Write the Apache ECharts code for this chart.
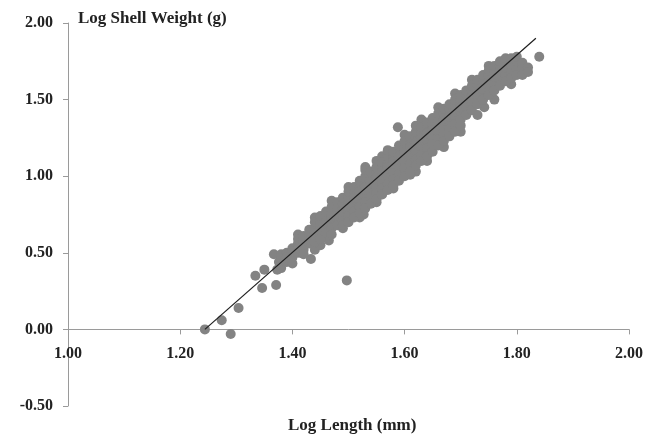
<!DOCTYPE html>
<html>
<head>
<meta charset="utf-8">
<script src="https://cdn.jsdelivr.net/npm/echarts@6/dist/echarts.min.js"></script>
<style>
html,body{margin:0;padding:0;background:#fff;}
#c{width:648px;height:438px;}
</style>
</head>
<body>
<div id="c"></div>
<script>
// Tick labels
var xTicks = [1.00, 1.20, 1.40, 1.60, 1.80, 2.00];
var yTicks = [-0.50, 0.00, 0.50, 1.00, 1.50, 2.00];
var xTitle = 'Log Length (mm)';
var yTitle = 'Log Shell Weight (g)';

// Isolated points (Log Length, Log Shell Weight)
var outlierPoints = [
  [1.244, 0.00], [1.290, -0.03], [1.274, 0.06], [1.304, 0.14],
  [1.334, 0.35], [1.346, 0.27], [1.350, 0.39], [1.371, 0.29],
  [1.373, 0.39], [1.376, 0.44], [1.367, 0.49], [1.415, 0.50],
  [1.433, 0.46], [1.465, 0.58], [1.497, 0.32], [1.527, 0.75],
  [1.588, 1.32], [1.620, 1.03], [1.742, 1.45], [1.840, 1.78]
];

// Points on the upper and lower fringes of the cloud
var edgePoints = [
  [1.41, 0.62], [1.44, 0.73], [1.47, 0.84], [1.50, 0.93], [1.53, 1.06],
  [1.56, 1.13], [1.60, 1.27], [1.63, 1.37], [1.66, 1.45], [1.69, 1.54],
  [1.72, 1.63], [1.75, 1.72],
  [1.44, 0.52], [1.45, 0.55], [1.46, 0.60], [1.49, 0.66], [1.52, 0.73],
  [1.55, 0.83], [1.58, 0.92], [1.61, 1.01], [1.64, 1.10], [1.67, 1.19],
  [1.70, 1.29], [1.73, 1.40], [1.76, 1.50], [1.79, 1.60]
];

// Main cloud: x value and the weights read in each narrow column
var cloudX = [1.38, 1.39, 1.40, 1.41, 1.42, 1.43, 1.44, 1.45, 1.46, 1.47,
  1.48, 1.49, 1.50, 1.51, 1.52, 1.53, 1.54, 1.55, 1.56, 1.57,
  1.58, 1.59, 1.60, 1.61, 1.62, 1.63, 1.64, 1.65, 1.66, 1.67,
  1.68, 1.69, 1.70, 1.71, 1.72, 1.73, 1.74, 1.75, 1.76, 1.77,
  1.78, 1.79, 1.80, 1.81, 1.82];
var cloudY = [
  [0.45, 0.40, 0.49],
  [0.44, 0.50, 0.47],
  [0.47, 0.53, 0.51, 0.43],
  [0.50, 0.56, 0.53, 0.59],
  [0.52, 0.58, 0.61, 0.55, 0.49],
  [0.56, 0.62, 0.58, 0.65],
  [0.60, 0.66, 0.63, 0.57, 0.70],
  [0.62, 0.68, 0.65, 0.71, 0.59, 0.74],
  [0.66, 0.70, 0.74, 0.63, 0.77],
  [0.69, 0.73, 0.76, 0.66, 0.80, 0.62],
  [0.72, 0.76, 0.79, 0.68, 0.83, 0.74],
  [0.75, 0.79, 0.82, 0.71, 0.86, 0.68, 0.77],
  [0.78, 0.82, 0.86, 0.74, 0.90, 0.80, 0.70],
  [0.81, 0.85, 0.89, 0.77, 0.93, 0.86, 0.73],
  [0.84, 0.88, 0.92, 0.80, 0.97, 0.90, 0.76],
  [0.87, 0.91, 0.95, 0.83, 1.00, 0.93, 0.79, 1.04],
  [0.90, 0.95, 0.99, 0.86, 1.03, 0.96, 0.82],
  [0.93, 0.98, 1.02, 0.89, 1.06, 0.99, 0.85, 1.10],
  [0.96, 1.01, 1.05, 0.92, 1.09, 1.03, 0.88],
  [1.00, 1.05, 1.08, 0.95, 1.13, 1.06, 0.91, 1.17],
  [1.03, 1.08, 1.12, 0.98, 1.16, 1.10, 0.94],
  [1.06, 1.11, 1.15, 1.01, 1.20, 1.13, 0.97],
  [1.10, 1.14, 1.18, 1.05, 1.23, 1.16, 1.00],
  [1.13, 1.18, 1.21, 1.08, 1.26, 1.19, 1.03],
  [1.16, 1.21, 1.25, 1.11, 1.29, 1.22, 1.07, 1.33],
  [1.19, 1.24, 1.28, 1.14, 1.32, 1.25, 1.10],
  [1.23, 1.27, 1.31, 1.18, 1.35, 1.28, 1.13],
  [1.26, 1.31, 1.34, 1.21, 1.38, 1.30, 1.16],
  [1.29, 1.34, 1.37, 1.24, 1.41, 1.33, 1.20],
  [1.32, 1.37, 1.41, 1.27, 1.44, 1.36, 1.23],
  [1.36, 1.40, 1.44, 1.31, 1.47, 1.39, 1.26],
  [1.39, 1.43, 1.47, 1.34, 1.50, 1.42, 1.29],
  [1.42, 1.47, 1.50, 1.37, 1.53, 1.45, 1.33],
  [1.45, 1.50, 1.53, 1.40, 1.56, 1.48],
  [1.48, 1.53, 1.56, 1.43, 1.59, 1.51],
  [1.52, 1.56, 1.60, 1.47, 1.63, 1.54],
  [1.55, 1.59, 1.63, 1.50, 1.66, 1.57],
  [1.58, 1.62, 1.66, 1.53, 1.69, 1.60],
  [1.61, 1.65, 1.69, 1.56, 1.72],
  [1.64, 1.68, 1.72, 1.59, 1.75],
  [1.66, 1.71, 1.75, 1.62, 1.77],
  [1.68, 1.73, 1.77, 1.64],
  [1.70, 1.75, 1.78, 1.66],
  [1.70, 1.74, 1.66],
  [1.71, 1.68]
];

// Fitted regression line end points
var fitLine = [[1.244, 0.00], [1.834, 1.90]];

var points = outlierPoints.concat(edgePoints);
for (var i = 0; i < cloudX.length; i++) {
  for (var j = 0; j < cloudY[i].length; j++) points.push([cloudX[i], cloudY[i][j]]);
}

var FONT = '"Liberation Serif", "Times New Roman", serif';
var chart = echarts.init(document.getElementById('c'), null, {renderer: 'canvas'});
chart.setOption({
  animation: false,
  backgroundColor: '#ffffff',
  title: [
    {text: yTitle, left: 73, top: 5,
     textStyle: {fontFamily: FONT, fontWeight: 'bold', fontSize: 17, color: '#222'}},
    {text: xTitle, left: 283, top: 412,
     textStyle: {fontFamily: FONT, fontWeight: 'bold', fontSize: 17, color: '#222'}}
  ],
  grid: {left: 68, right: 19, top: 23, bottom: 32, containLabel: false},
  xAxis: {
    type: 'value', min: xTicks[0], max: xTicks[xTicks.length - 1], interval: 0.2,
    axisLine: {onZero: true, lineStyle: {color: '#9a9a9a', width: 1}},
    axisTick: {show: true, length: 5, lineStyle: {color: '#9a9a9a'}},
    splitLine: {show: false},
    axisLabel: {margin: -60, fontFamily: FONT, fontWeight: 'bold', fontSize: 16, color: '#222',
      formatter: function (v) { return v.toFixed(2); }}
  },
  yAxis: {
    type: 'value', min: yTicks[0], max: yTicks[yTicks.length - 1], interval: 0.5,
    axisLine: {show: true, onZero: false, lineStyle: {color: '#9a9a9a', width: 1}},
    axisTick: {show: true, length: 5, lineStyle: {color: '#9a9a9a'}},
    splitLine: {show: false},
    axisLabel: {margin: 15, fontFamily: FONT, fontWeight: 'bold', fontSize: 16, color: '#222',
      formatter: function (v) { return v.toFixed(2); }}
  },
  series: [
    {type: 'scatter', data: points, symbol: 'circle', symbolSize: 10,
     itemStyle: {color: '#838383', opacity: 1}, z: 2},
    {type: 'line', data: fitLine, symbol: 'none', z: 3,
     lineStyle: {color: '#1e1e1e', width: 1.2}}
  ]
});
</script>
</body>
</html>
